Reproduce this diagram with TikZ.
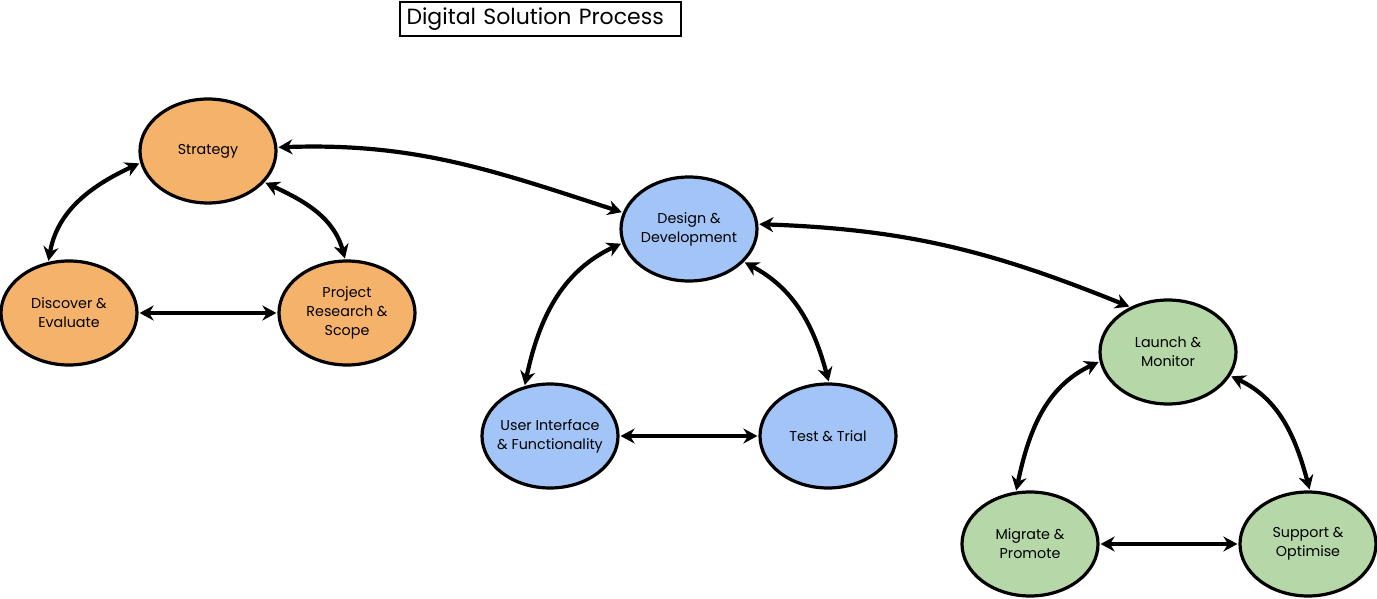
\documentclass[tikz,border=0pt]{standalone}
\usepackage{fontspec}
\setmainfont{Poppins}
\usetikzlibrary{shapes.geometric,arrows.meta}
\definecolor{orfill}{RGB}{245,178,107}
\definecolor{blfill}{RGB}{162,196,247}
\definecolor{grfill}{RGB}{182,215,168}
\tikzset{
  stage/.style={ellipse, draw=black, line width=3.2pt, minimum width=136pt, minimum height=104pt, inner sep=0pt, align=center, font=\fontsize{14.3}{19}\selectfont},
  conn/.style={line width=4.2pt, {Stealth[length=14pt,width=15pt]}-{Stealth[length=14pt,width=15pt]}, shorten <=1pt, shorten >=1pt},
}
\begin{document}
\begin{tikzpicture}[x=1pt,y=1pt]
\useasboundingbox (0,0) rectangle (1377,-599);
\node[draw=black, line width=2.5pt, minimum width=281pt, minimum height=34pt, inner sep=0pt, text width=268pt, align=left, font=\fontsize{22}{24}\selectfont] (title) at (540.5,-19) {Digital Solution Process};

\node[stage, fill=orfill] (strat) at (208,-151) {Strategy};
\node[stage, fill=orfill] (disc) at (69,-313) {Discover \&\\Evaluate};
\node[stage, fill=orfill] (proj) at (347,-313) {Project\\Research \&\\Scope};

\node[stage, fill=blfill] (des) at (689,-229) {Design \&\\Development};
\node[stage, fill=blfill, inner xsep=-12pt] (ui) at (550,-436) {User Interface\\\& Functionality};
\node[stage, fill=blfill] (test) at (828,-436) {Test \& Trial};

\node[stage, fill=grfill] (launch) at (1168,-352) {Launch \&\\Monitor};
\node[stage, fill=grfill] (mig) at (1030,-544) {Migrate \&\\Promote};
\node[stage, fill=grfill] (sup) at (1308,-544) {Support \&\\Optimise};

\draw[conn] (strat.190) to[out=205,in=80] (disc.112);
\draw[conn] (strat.-29) to[out=-25,in=105] (proj.92);
\draw[conn] (disc) -- (proj);
\draw[conn] (strat.3) to[out=2,in=162] (des.166);

\draw[conn] (des.192) to[out=205,in=78] (ui.117);
\draw[conn] (des.-31) to[out=-28,in=105] (test.89);
\draw[conn] (ui) -- (test);
\draw[conn] (des.4) to[out=-2,in=158] (launch.130);

\draw[conn] (launch.188) to[out=205,in=78] (mig.105);
\draw[conn] (launch.-21) to[out=-25,in=105] (sup.88);
\draw[conn] (mig) -- (sup);
\end{tikzpicture}
\end{document}
